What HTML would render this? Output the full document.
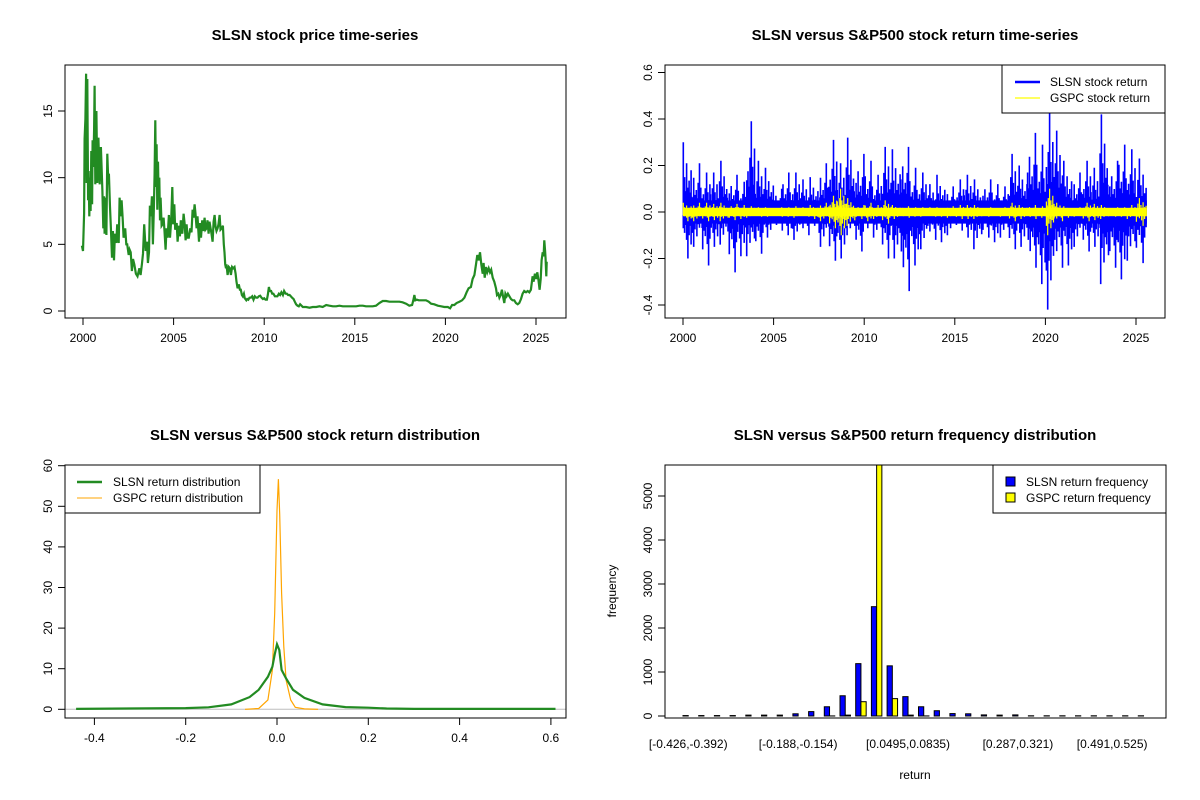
<!DOCTYPE html>
<html><head><meta charset="utf-8"><style>
body{margin:0;background:#fff}
svg{display:block;font-family:"Liberation Sans",Arial,sans-serif}
</style></head><body>
<svg id="s" width="1200" height="800" viewBox="0 0 1200 800"></svg>
<script>
// ---------- DATA ----------
const priceYears=[1999.94,2000.00,2000.06,2000.09,2000.13,2000.17,2000.20,2000.24,2000.28,2000.31,2000.35,2000.39,2000.42,2000.46,2000.50,2000.53,2000.57,2000.61,2000.64,2000.68,2000.74,2000.79,2000.85,2000.92,2000.99,2001.07,2001.12,2001.16,2001.19,2001.25,2001.29,2001.34,2001.40,2001.43,2001.49,2001.54,2001.60,2001.65,2001.71,2001.76,2001.84,2001.89,2001.97,2002.02,2002.08,2002.13,2002.19,2002.24,2002.33,2002.39,2002.44,2002.52,2002.57,2002.63,2002.70,2002.76,2002.83,2002.92,2003.01,2003.11,2003.18,2003.25,2003.31,2003.38,2003.46,2003.53,2003.58,2003.64,2003.69,2003.75,2003.80,2003.86,2003.91,2003.95,2003.99,2004.03,2004.06,2004.10,2004.14,2004.17,2004.21,2004.25,2004.28,2004.34,2004.39,2004.45,2004.50,2004.56,2004.61,2004.67,2004.74,2004.80,2004.87,2004.93,2004.98,2005.04,2005.09,2005.17,2005.22,2005.29,2005.35,2005.40,2005.48,2005.55,2005.61,2005.66,2005.72,2005.77,2005.84,2005.92,2005.99,2006.05,2006.10,2006.16,2006.21,2006.27,2006.32,2006.40,2006.45,2006.51,2006.58,2006.64,2006.71,2006.76,2006.82,2006.87,2006.93,2006.98,2007.04,2007.09,2007.15,2007.21,2007.26,2007.32,2007.37,2007.43,2007.48,2007.54,2007.59,2007.66,2007.72,2007.77,2007.81,2007.85,2007.89,2007.92,2007.98,2008.05,2008.11,2008.16,2008.23,2008.29,2008.36,2008.42,2008.47,2008.53,2008.60,2008.66,2008.71,2008.77,2008.82,2008.88,2008.93,2009.01,2009.06,2009.12,2009.19,2009.26,2009.34,2009.41,2009.48,2009.56,2009.63,2009.70,2009.78,2009.85,2009.93,2010.00,2010.07,2010.15,2010.20,2010.26,2010.31,2010.38,2010.44,2010.51,2010.59,2010.66,2010.73,2010.81,2010.88,2010.95,2011.03,2011.10,2011.18,2011.25,2011.32,2011.40,2011.47,2011.54,2011.62,2011.69,2011.76,2011.84,2011.91,2011.98,2012.06,2012.13,2012.20,2012.31,2012.50,2012.68,2012.87,2013.05,2013.23,2013.42,2013.60,2013.79,2013.97,2014.15,2014.34,2014.52,2014.70,2014.89,2015.07,2015.26,2015.44,2015.62,2015.81,2015.99,2016.17,2016.36,2016.54,2016.73,2016.91,2017.09,2017.28,2017.46,2017.64,2017.83,2018.01,2018.16,2018.23,2018.29,2018.34,2018.42,2018.53,2018.66,2018.78,2018.93,2019.08,2019.21,2019.39,2019.58,2019.76,2019.94,2020.13,2020.26,2020.37,2020.49,2020.62,2020.77,2020.92,2021.05,2021.17,2021.28,2021.41,2021.50,2021.60,2021.69,2021.76,2021.84,2021.91,2021.98,2022.06,2022.11,2022.17,2022.24,2022.31,2022.39,2022.46,2022.53,2022.61,2022.70,2022.79,2022.85,2022.92,2022.98,2023.05,2023.12,2023.18,2023.25,2023.31,2023.38,2023.45,2023.53,2023.62,2023.71,2023.80,2023.89,2023.99,2024.08,2024.17,2024.26,2024.35,2024.45,2024.54,2024.63,2024.72,2024.81,2024.87,2024.94,2025.00,2025.07,2025.14,2025.20,2025.26,2025.31,2025.37,2025.42,2025.46,2025.50,2025.53,2025.57,2025.59];
const priceValues=[4.9,4.5,7.3,12.9,14.4,17.8,9.6,17.4,8.3,10.5,7.1,10,7.5,12,8,12.8,10.8,13.6,16.9,9.5,15,9.6,13,9.5,12.3,9,6.2,8.6,5.8,8.5,5.7,11.8,9.5,10.3,7.8,6.2,4,6,3.8,5.8,5.1,6.5,5.1,8.5,7.1,8.3,6.9,5.5,6.2,5,5,4.2,4.6,4.4,3,3.9,3.5,2.8,2.6,3.2,2.7,3.5,4.3,6.5,4.5,5.2,3.6,4.4,7.9,7.1,8.6,5,7.5,10.3,14.3,9.3,12.5,7.6,11.2,8.6,10,6.8,8.5,6.4,6.5,7,6,4.6,6.2,5.5,7.2,5.5,6.8,9.3,6.5,8,6.1,6.6,5.2,6.4,5.6,6.8,5.8,7.3,6.5,5.3,6.5,5.5,5.5,6.2,5.9,7.6,7,8,7.3,6.2,7.1,5.2,6.6,5.5,6.8,6,7,6.1,6.2,6.8,5.8,6.7,6.2,5.8,5.2,6.7,7.2,6.3,6,6.2,6.5,7.2,6.1,6.2,6.4,5,4.4,3.5,3.2,3.5,2.7,3.3,3.2,2.7,3.3,3.2,3.3,2.8,2.2,1.7,2,1.6,1.6,1.2,1.1,1.3,0.95,0.8,0.9,0.85,1,1,1.1,0.85,1.1,1,1,1.1,1.15,1,0.9,0.95,0.85,0.85,1.2,1.8,1.5,1.5,1.3,1.3,1.1,1.1,1.1,1.3,1.2,1.4,1.2,1.5,1.3,1.3,1.2,1.2,1.1,1,0.9,0.7,0.5,0.4,0.35,0.5,0.4,0.3,0.3,0.3,0.25,0.3,0.3,0.35,0.3,0.45,0.4,0.35,0.35,0.4,0.35,0.35,0.35,0.35,0.35,0.4,0.4,0.35,0.35,0.35,0.4,0.6,0.75,0.75,0.7,0.7,0.7,0.7,0.65,0.55,0.4,0.45,0.8,1.2,0.8,0.85,0.8,0.8,0.8,0.8,0.7,0.55,0.5,0.4,0.35,0.3,0.3,0.2,0.45,0.45,0.6,0.7,0.8,1,1.4,1.7,1.8,2.4,2.7,3.5,4.2,3.8,4.4,3.5,2.8,3.6,2.5,3.3,2.9,3.2,2.9,3.1,2.5,2.2,1.7,1.2,1.3,1,1.2,1.6,1.1,0.6,1.3,1.1,1.3,1.1,0.9,0.8,0.8,0.6,0.5,0.6,0.9,1.3,1.5,1.4,1.5,1.4,1.6,2.6,2.2,2.8,2.4,2.9,2.3,1.6,2.4,3.8,4.4,4.1,5.3,4.5,3.9,2.6,3.7];
const yearTicks=[2000,2005,2010,2015,2020,2025];
const priceTicks=[0,5,10,15];
// returns: half-year bins starting 2000.0
const retBinStart=[2000.0,2000.5,2001.0,2001.5,2002.0,2002.5,2003.0,2003.5,2004.0,2004.5,2005.0,2005.5,2006.0,2006.5,2007.0,2007.5,2008.0,2008.5,2009.0,2009.5,2010.0,2010.5,2011.0,2011.5,2012.0,2012.5,2013.0,2013.5,2014.0,2014.5,2015.0,2015.5,2016.0,2016.5,2017.0,2017.5,2018.0,2018.5,2019.0,2019.5,2020.0,2020.5,2021.0,2021.5,2022.0,2022.5,2023.0,2023.5,2024.0,2024.5,2025.0];
const slsnRetHigh=[0.30,0.21,0.17,0.17,0.22,0.16,0.13,0.39,0.22,0.19,0.10,0.17,0.17,0.14,0.15,0.21,0.31,0.21,0.32,0.25,0.22,0.16,0.28,0.27,0.28,0.19,0.17,0.12,0.16,0.11,0.14,0.16,0.14,0.14,0.12,0.11,0.25,0.20,0.34,0.29,0.43,0.35,0.22,0.17,0.22,0.19,0.42,0.22,0.29,0.27,0.23];
const slsnRetLow=[-0.20,-0.15,-0.23,-0.15,-0.14,-0.26,-0.19,-0.19,-0.18,-0.11,-0.08,-0.10,-0.12,-0.10,-0.06,-0.15,-0.21,-0.20,-0.10,-0.17,-0.07,-0.11,-0.20,-0.20,-0.34,-0.23,-0.16,-0.12,-0.13,-0.10,-0.08,-0.11,-0.16,-0.11,-0.13,-0.11,-0.16,-0.15,-0.24,-0.31,-0.42,-0.24,-0.23,-0.15,-0.17,-0.15,-0.31,-0.24,-0.29,-0.21,-0.22];
const gspcRetAbs=[0.04,0.04,0.04,0.035,0.04,0.035,0.03,0.025,0.02,0.02,0.02,0.02,0.025,0.02,0.03,0.04,0.07,0.10,0.06,0.03,0.04,0.03,0.05,0.03,0.025,0.02,0.02,0.02,0.02,0.025,0.03,0.03,0.03,0.02,0.015,0.02,0.04,0.03,0.03,0.025,0.10,0.04,0.025,0.02,0.04,0.035,0.03,0.02,0.02,0.03,0.06];
const retTicks=[-0.4,-0.2,0.0,0.2,0.4,0.6];
// densities
const densX=[-0.44,-0.2,-0.15,-0.1,-0.06,-0.04,-0.02,-0.01,-0.005,0,0.005,0.01,0.02,0.035,0.06,0.1,0.15,0.2,0.24,0.3,0.61];
const slsnDens=[0.1,0.3,0.5,1.2,3.0,4.8,8,10.5,13.5,16,14.6,9.7,7.6,4.8,2.8,1.2,0.55,0.4,0.2,0.1,0.1];
const gspcDensX=[-0.07,-0.04,-0.02,-0.01,-0.005,0,0.003,0.006,0.01,0.015,0.02,0.03,0.04,0.06,0.09];
const gspcDens=[0,0.2,2.3,9.7,23.7,49,56.7,48,28.6,15.4,7.2,2.3,0.5,0.1,0];
const densXTicks=[-0.4,-0.2,0.0,0.2,0.4,0.6];
const densYTicks=[0,10,20,30,40,50,60];
// histogram
const binLabels=["[-0.426,-0.392)","[-0.188,-0.154)","[0.0495,0.0835)","[0.287,0.321)","[0.491,0.525)"];
const binLabelIdx=[0,7,14,21,27];
const slsnFreq=[10,10,10,10,20,20,20,50,100,210,460,1190,2485,1140,440,210,120,55,50,25,20,25,5,5,5,5,5,5,5,5];
const gspcFreq=[0,0,0,0,0,0,0,0,0,2,20,325,6300,395,20,2,0,0,0,0,0,0,0,0,0,0,0,0,0,0];
const freqTicks=[0,1000,2000,3000,4000,5000];

// ---------- HELPERS ----------
const S=document.getElementById('s');const NS='http://www.w3.org/2000/svg';
function el(t,a,p){const e=document.createElementNS(NS,t);for(const k in a)e.setAttribute(k,a[k]);(p||S).appendChild(e);return e;}
function txt(x,y,s,a,p){const e=el('text',Object.assign({x:x,y:y,'font-size':12,'text-anchor':'middle',fill:'#000'},a||{}),p);e.textContent=s;return e;}
function lin(a,b,c,d){return v=>c+(v-a)*(d-c)/(b-a);}
function group(name){const g=el('g',{});return g;}
function box(g,x0,y0,x1,y1){const r=el('rect',{x:x0,y:y0,width:x1-x0,height:y1-y0,fill:'none',stroke:'#000','stroke-width':1},g);}
function xAxis(g,ticks,X,y,fmt){const a=group('x-axis');g.appendChild(a);el('line',{x1:X(ticks[0]),x2:X(ticks[ticks.length-1]),y1:y,y2:y,stroke:'#000'},a);ticks.forEach(t=>{el('line',{x1:X(t),x2:X(t),y1:y,y2:y+7,stroke:'#000'},a);const l=txt(X(t),y+24,fmt?fmt(t):String(t),{},a);});}
function yAxis(g,ticks,Y,x,fmt){const a=group('y-axis');g.appendChild(a);el('line',{x1:x,x2:x,y1:Y(ticks[0]),y2:Y(ticks[ticks.length-1]),stroke:'#000'},a);ticks.forEach(t=>{el('line',{x1:x,x2:x-7,y1:Y(t),y2:Y(t),stroke:'#000'},a);const l=txt(x-13,Y(t),fmt?fmt(t):String(t),{transform:`rotate(-90 ${x-13} ${Y(t)})`},a);});}
function title(g,x,y,s){const t=txt(x,y,s,{'font-size':15,'font-weight':'bold'},g);}
function path(g,xs,ys,X,Y,attrs,name){const d=xs.map((x,i)=>(i?'L':'M')+X(x).toFixed(1)+' '+Y(ys[i]).toFixed(1)).join('');const p=el('path',Object.assign({d:d,fill:'none'},attrs),g);return p;}

// ---------- PANEL 1: price ----------
(function(){const g=group('price-panel');S.appendChild(g);
const X=lin(2000,2025,83,536),Y=lin(0,15,311,111);
title(g,315,40,'SLSN stock price time-series');
path(g,priceYears,priceValues,X,Y,{stroke:'#228B22','stroke-width':2.2,'stroke-linejoin':'miter'},'slsn-price-line');
box(g,65,65,566,318);
xAxis(g,yearTicks,X,318);yAxis(g,priceTicks,Y,65);})();

// ---------- PANEL 2: returns ----------
(function(){const g=group('returns-panel');S.appendChild(g);
const X=lin(2000,2025,683,1136),Y=lin(0,0.2,212,165.5);
title(g,915,40,'SLSN versus S&P500 stock return time-series');
const pat=[1,0.25,0.5,0.15,0.3,0.7,0.2,0.35,0.12,0.45,0.28,0.18,0.6,0.22];
const sub=pat.length;
let dB='',dY='';
retBinStart.forEach((b,i)=>{
  const w=(i===retBinStart.length-1)?0.58:0.5;
  for(let k=0;k<sub;k++){
    const t=b+w*(k+0.5)/sub, m=pat[(k+i*3)%sub], m2=pat[(k+i*5+7)%sub];
    dB+=`M${X(t).toFixed(1)} ${Y(slsnRetHigh[i]*m).toFixed(1)}L${X(t).toFixed(1)} ${Y(slsnRetLow[i]*m2).toFixed(1)}`;
    dY+=`M${X(t).toFixed(1)} ${Y(gspcRetAbs[i]*m).toFixed(1)}L${X(t).toFixed(1)} ${Y(-gspcRetAbs[i]*m2).toFixed(1)}`;
  }});
let p=el('path',{d:dB,stroke:'#0000FF','stroke-width':1.6,fill:'none'},g);

const band=el('rect',{x:X(2000),y:Y(0.05),width:X(2025.6)-X(2000),height:Y(-0.05)-Y(0.05),fill:'#0000FF'},g);

const yb=el('rect',{x:X(2000),y:Y(0.018),width:X(2025.6)-X(2000),height:Y(-0.018)-Y(0.018),fill:'#FFFF00'},g);

p=el('path',{d:dY,stroke:'#FFFF00','stroke-width':1.2,fill:'none'},g);

box(g,665,65,1165,318);
xAxis(g,yearTicks,X,318);yAxis(g,retTicks,Y,665,t=>t.toFixed(1));
const L=group('legend');g.appendChild(L);
el('rect',{x:1002,y:65,width:163,height:48,fill:'#fff',stroke:'#000'},L);
el('line',{x1:1015,x2:1040,y1:82,y2:82,stroke:'#0000FF','stroke-width':2.5},L);
el('line',{x1:1015,x2:1040,y1:98,y2:98,stroke:'#FFFF00','stroke-width':1.2},L);
let t=txt(1050,86,'SLSN stock return',{'text-anchor':'start'},L);
t=txt(1050,102,'GSPC stock return',{'text-anchor':'start'},L);})();

// ---------- PANEL 3: density ----------
(function(){const g=group('density-panel');S.appendChild(g);
const X=lin(0,0.2,277,368.3),Y=lin(0,10,709.3,668.7);
title(g,315,440,'SLSN versus S&P500 stock return distribution');
el('line',{x1:65,x2:566,y1:Y(0),y2:Y(0),stroke:'#bebebe'},g);
path(g,gspcDensX,gspcDens,X,Y,{stroke:'#FFA500','stroke-width':1.2},'gspc-density-line');
path(g,densX,slsnDens,X,Y,{stroke:'#228B22','stroke-width':2.2},'slsn-density-line');
box(g,65,465,566,718);
xAxis(g,densXTicks,X,718,t=>t===0?'0.0':t.toFixed(1));yAxis(g,densYTicks,Y,65);
const L=group('legend');g.appendChild(L);
el('rect',{x:65,y:465,width:195,height:48,fill:'#fff',stroke:'#000'},L);
el('line',{x1:77,x2:102,y1:482,y2:482,stroke:'#228B22','stroke-width':2.5},L);
el('line',{x1:77,x2:102,y1:498,y2:498,stroke:'#FFA500','stroke-width':1},L);
let t=txt(113,486,'SLSN return distribution',{'text-anchor':'start'},L);
t=txt(113,502,'GSPC return distribution',{'text-anchor':'start'},L);})();

// ---------- PANEL 4: histogram ----------
(function(){const g=group('histogram-panel');S.appendChild(g);
const Y=lin(0,1000,716,672);const u=15.7/3,x0=683-u;
const bx=(k,s)=>x0+u*(3*k+1+s);
title(g,915,440,'SLSN versus S&P500 return frequency distribution');
const clip=el('clipPath',{id:'hc'},g);el('rect',{x:665,y:465,width:501,height:253},clip);
const bars=el('g',{'clip-path':'url(#hc)'},g);
slsnFreq.forEach((v,k)=>{const r=el('rect',{x:bx(k,0),y:Y(v),width:u,height:Y(0)-Y(v),fill:'#0000FF',stroke:'#000','stroke-width':1},bars);
});
gspcFreq.forEach((v,k)=>{const r=el('rect',{x:bx(k,1),y:Y(v),width:u,height:Y(0)-Y(v),fill:'#FFFF00',stroke:'#000','stroke-width':1},bars);
});
box(g,665,465,1166,718);
yAxis(g,freqTicks,Y,665);
binLabels.forEach((s,i)=>{const l=txt(bx(binLabelIdx[i],1),748,s,{},g);});
let t=txt(915,779,'return',{},g);
t=txt(616,591,'frequency',{transform:'rotate(-90 616 591)'},g);
const L=group('legend');g.appendChild(L);
el('rect',{x:993,y:465,width:173,height:48,fill:'#fff',stroke:'#000'},L);
el('rect',{x:1006,y:477,width:9,height:9,fill:'#0000FF',stroke:'#000'},L);
el('rect',{x:1006,y:493,width:9,height:9,fill:'#FFFF00',stroke:'#000'},L);
t=txt(1026,486,'SLSN return frequency',{'text-anchor':'start'},L);
t=txt(1026,502,'GSPC return frequency',{'text-anchor':'start'},L);})();
</script>
</body></html>
